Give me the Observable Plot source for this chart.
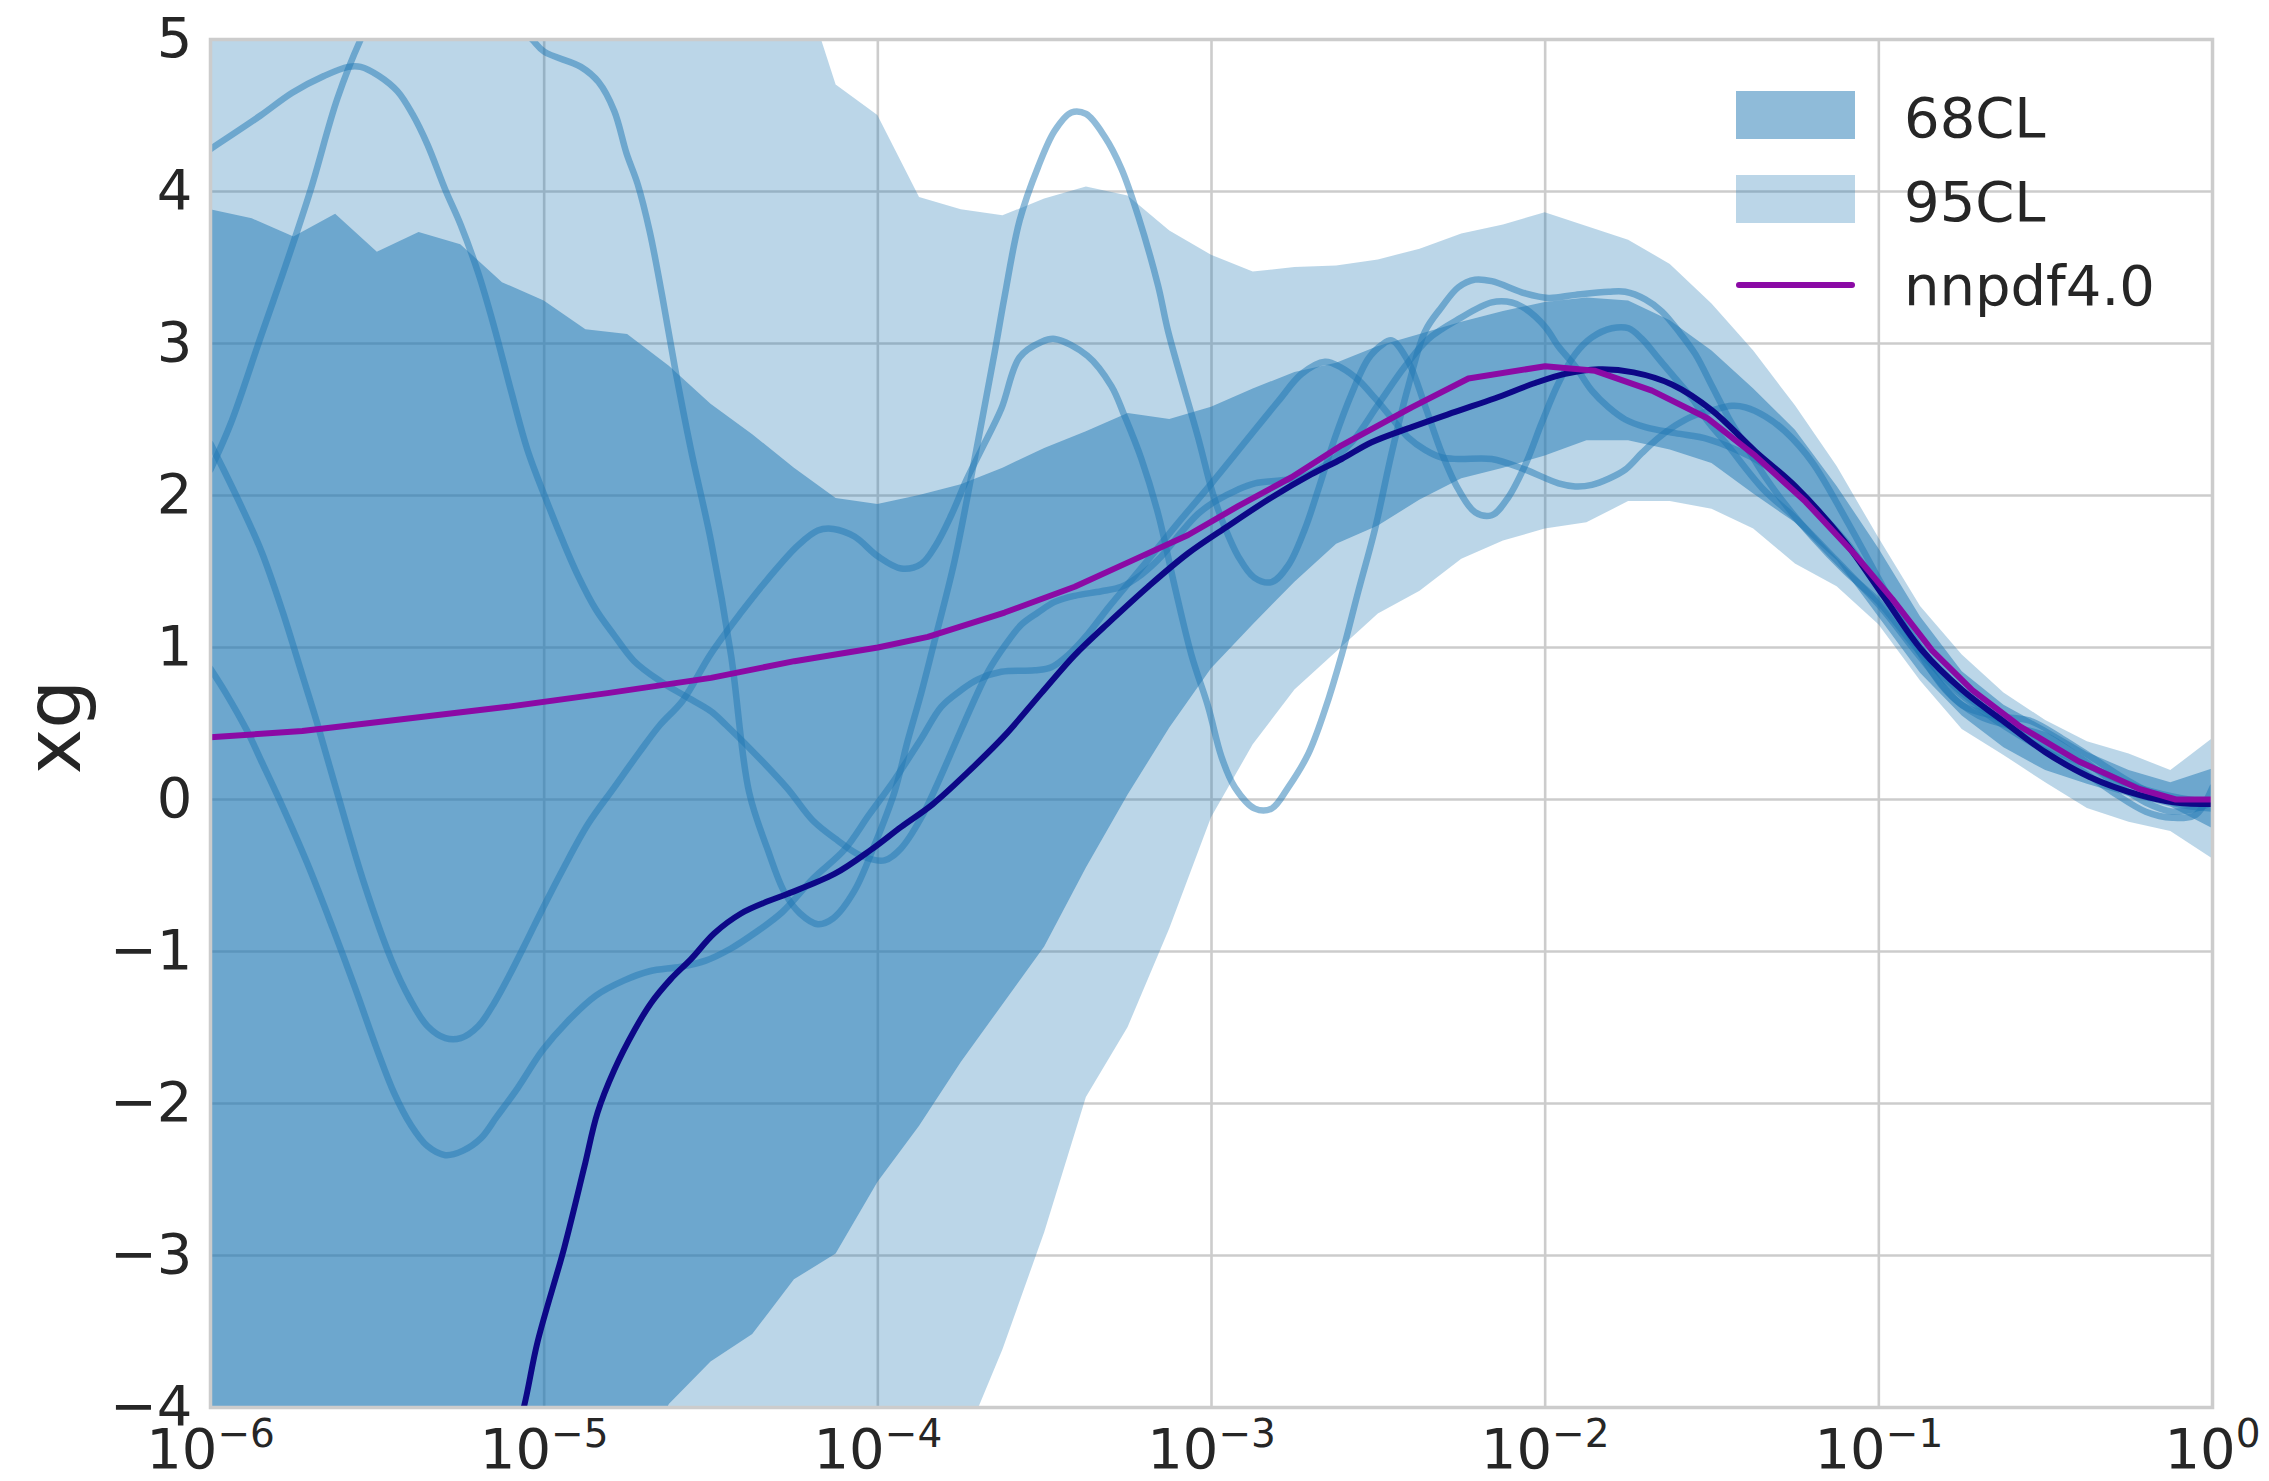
<!DOCTYPE html>
<html>
<head>
<meta charset="utf-8">
<script src="https://cdn.jsdelivr.net/npm/d3@7"></script>
<script src="https://cdn.jsdelivr.net/npm/@observablehq/plot@0.6"></script>
<style>
  html, body { margin: 0; padding: 0; background: #ffffff; }
  svg { display: block; }
</style>
</head>
<body>
<div id="chart"></div>
<script>
// ---------- DATA (x given as log10 exponents) ----------
const xTickExponents = [-6, -5, -4, -3, -2, -1, 0];
const yTicks = [-4, -3, -2, -1, 0, 1, 2, 3, 4, 5];

const gridLogX = [-6, -5.875, -5.75, -5.625, -5.5, -5.375, -5.25, -5.125, -5, -4.875, -4.75, -4.625,
  -4.5, -4.375, -4.25, -4.125, -4, -3.875, -3.75, -3.625, -3.5, -3.375, -3.25, -3.125,
  -3, -2.875, -2.75, -2.625, -2.5, -2.375, -2.25, -2.125, -2, -1.875, -1.75, -1.625,
  -1.5, -1.375, -1.25, -1.125, -1, -0.875, -0.75, -0.625, -0.5, -0.375, -0.25, -0.125, 0];

const cl95Upper = [6, 6, 6, 6, 6, 6, 6, 6, 6, 6, 6, 6, 6, 6,
  5.55, 4.70, 4.50, 3.96, 3.88, 3.84, 3.95, 4.03, 3.97, 3.74, 3.58, 3.47, 3.50, 3.51, 3.55,
  3.62, 3.72, 3.78, 3.86, 3.77, 3.68, 3.52, 3.26, 2.95, 2.59, 2.19, 1.72, 1.27, 0.95, 0.70,
  0.52, 0.38, 0.30, 0.19, 0.40];

const cl95Lower = [-6, -6, -6, -6, -6, -6, -6, -6, -6, -6, -6, -6, -6, -6, -6, -6, -6, -5,
  -4.28, -3.62, -2.85, -1.96, -1.50, -0.85, -0.12, 0.36, 0.72, 0.97, 1.22, 1.37, 1.58, 1.70,
  1.78, 1.82, 1.96, 1.96, 1.91, 1.78, 1.55, 1.40, 1.15, 0.78, 0.46, 0.29, 0.11, -0.06, -0.15,
  -0.21, -0.39];

const cl68Upper = [3.88, 3.82, 3.70, 3.85, 3.60, 3.73, 3.65, 3.40, 3.28, 3.09, 3.06, 2.85,
  2.60, 2.40, 2.18, 1.98, 1.94, 2.00, 2.07, 2.18, 2.31, 2.42, 2.54, 2.50, 2.58, 2.70, 2.81,
  2.87, 2.98, 3.06, 3.14, 3.21, 3.27, 3.30, 3.28, 3.15, 2.95, 2.70, 2.43, 2.06, 1.65, 1.20,
  0.84, 0.62, 0.47, 0.31, 0.19, 0.11, 0.20];

const cl68Lower = [-6, -6, -6, -6, -6, -6, -6, -6, -6, -5.4, -4.6,
  -3.98, -3.70, -3.52, -3.16, -2.99, -2.52, -2.15, -1.73, -1.35, -0.97, -0.45, 0.03, 0.47,
  0.86, 1.15, 1.43, 1.68, 1.80, 1.97, 2.11, 2.18, 2.26, 2.36, 2.36, 2.30, 2.21, 2.01, 1.82,
  1.57, 1.20, 0.83, 0.55, 0.34, 0.19, 0.10, 0.02, -0.05, -0.19];

// replicas: [log10 x, xg]
const replicaA = [[-6, 4.28], [-5.85, 4.50], [-5.755, 4.65], [-5.66, 4.76], [-5.587, 4.82], [-5.55, 4.82],
  [-5.495, 4.76], [-5.44, 4.66], [-5.395, 4.51], [-5.35, 4.31], [-5.296, 4.01], [-5.25, 3.78],
  [-5.197, 3.46], [-5.15, 3.11], [-5.097, 2.67], [-5.05, 2.30], [-4.99, 1.95], [-4.944, 1.70],
  [-4.898, 1.47], [-4.845, 1.25], [-4.79, 1.08], [-4.73, 0.91], [-4.653, 0.78], [-4.577, 0.68],
  [-4.50, 0.58], [-4.455, 0.49], [-4.35, 0.26], [-4.27, 0.07], [-4.194, -0.14], [-4.12, -0.27],
  [-4.05, -0.37], [-3.98, -0.40], [-3.93, -0.32], [-3.87, -0.12], [-3.82, 0.11], [-3.77, 0.36],
  [-3.72, 0.61], [-3.67, 0.84], [-3.62, 1.01], [-3.57, 1.15], [-3.52, 1.23], [-3.47, 1.30],
  [-3.41, 1.34], [-3.33, 1.37], [-3.27, 1.40], [-3.21, 1.48], [-3.15, 1.60], [-3.09, 1.76],
  [-3.04, 1.88], [-2.99, 1.96], [-2.92, 2.04], [-2.87, 2.08], [-2.79, 2.10], [-2.73, 2.12],
  [-2.66, 2.20], [-2.58, 2.35], [-2.50, 2.60], [-2.42, 2.85], [-2.35, 3.03], [-2.26, 3.16],
  [-2.16, 3.27], [-2.10, 3.27], [-2.06, 3.23], [-2.0, 3.11], [-1.96, 2.98], [-1.91, 2.85],
  [-1.86, 2.69], [-1.81, 2.58], [-1.76, 2.50], [-1.70, 2.45], [-1.61, 2.41], [-1.51, 2.37],
  [-1.38, 2.25], [-1.31, 2.15], [-1.24, 2.02], [-1.1, 1.70], [-1.0, 1.40], [-0.9, 1.08],
  [-0.8, 0.78], [-0.7, 0.60], [-0.6, 0.45], [-0.5, 0.32], [-0.4, 0.20], [-0.3, 0.05],
  [-0.2, -0.08], [-0.12, -0.12], [-0.05, -0.10], [0, 0.08]];

const replicaB = [[-6, 2.17], [-5.94, 2.47], [-5.85, 3.04], [-5.78, 3.48], [-5.70, 4.01], [-5.62, 4.61],
  [-5.55, 5.0], [-5.48, 5.3], [-5.38, 5.45], [-5.25, 5.4], [-5.12, 5.2], [-5.036, 5.0],
  [-5.0, 4.92], [-4.89, 4.82], [-4.837, 4.72], [-4.79, 4.53], [-4.753, 4.25], [-4.72, 4.05],
  [-4.684, 3.74], [-4.646, 3.31], [-4.608, 2.84], [-4.56, 2.30], [-4.50, 1.70], [-4.44, 0.95],
  [-4.386, 0.05], [-4.33, -0.33], [-4.28, -0.61], [-4.233, -0.75], [-4.18, -0.82], [-4.133, -0.78],
  [-4.07, -0.60], [-4.01, -0.30], [-3.95, 0.05], [-3.91, 0.39], [-3.87, 0.70], [-3.835, 1.0],
  [-3.77, 1.57], [-3.71, 2.24], [-3.65, 2.94], [-3.62, 3.31], [-3.575, 3.81], [-3.52, 4.16],
  [-3.47, 4.40], [-3.42, 4.52], [-3.376, 4.51], [-3.32, 4.36], [-3.27, 4.15], [-3.22, 3.84],
  [-3.16, 3.38], [-3.13, 3.08], [-3.04, 2.38], [-2.997, 2.02], [-2.96, 1.79], [-2.92, 1.60],
  [-2.872, 1.46], [-2.82, 1.43], [-2.77, 1.54], [-2.72, 1.78], [-2.68, 2.04], [-2.63, 2.38],
  [-2.58, 2.67], [-2.53, 2.90], [-2.49, 2.99], [-2.46, 3.02], [-2.41, 2.88], [-2.36, 2.59],
  [-2.31, 2.28], [-2.26, 2.04], [-2.21, 1.89], [-2.16, 1.87], [-2.11, 1.99], [-2.06, 2.20],
  [-2.01, 2.48], [-1.96, 2.74], [-1.91, 2.93], [-1.86, 3.04], [-1.80, 3.10], [-1.75, 3.10],
  [-1.71, 3.03], [-1.66, 2.90], [-1.61, 2.77], [-1.56, 2.64], [-1.51, 2.48], [-1.46, 2.35],
  [-1.35, 2.05], [-1.25, 1.85], [-1.13, 1.58], [-1.0, 1.28], [-0.87, 0.92], [-0.75, 0.62],
  [-0.65, 0.55], [-0.55, 0.52], [-0.45, 0.40], [-0.35, 0.26], [-0.25, 0.12], [-0.12, -0.02], [0, -0.06]];

const replicaC = [[-6, 0.86], [-5.954, 0.70], [-5.89, 0.45], [-5.847, 0.25], [-5.80, 0.03], [-5.71, -0.42],
  [-5.633, -0.85], [-5.57, -1.22], [-5.50, -1.65], [-5.45, -1.93], [-5.40, -2.14], [-5.35, -2.28],
  [-5.296, -2.34], [-5.243, -2.31], [-5.19, -2.23], [-5.143, -2.09], [-5.08, -1.90], [-5.005, -1.65],
  [-4.93, -1.46], [-4.845, -1.29], [-4.76, -1.19], [-4.684, -1.13], [-4.59, -1.10], [-4.516, -1.06],
  [-4.44, -0.98], [-4.37, -0.88], [-4.286, -0.74], [-4.194, -0.52], [-4.10, -0.33], [-4.026, -0.10],
  [-3.95, 0.13], [-3.87, 0.40], [-3.81, 0.61], [-3.75, 0.72], [-3.70, 0.79], [-3.63, 0.84],
  [-3.53, 0.85], [-3.48, 0.87], [-3.43, 0.95], [-3.37, 1.09], [-3.31, 1.26], [-3.2, 1.55],
  [-3.1, 1.82], [-3.0, 2.08], [-2.9, 2.35], [-2.8, 2.62], [-2.73, 2.80], [-2.66, 2.88],
  [-2.61, 2.84], [-2.56, 2.76], [-2.51, 2.64], [-2.46, 2.51], [-2.41, 2.38], [-2.36, 2.30],
  [-2.31, 2.25], [-2.26, 2.24], [-2.16, 2.24], [-2.06, 2.17], [-1.96, 2.08], [-1.91, 2.06],
  [-1.86, 2.07], [-1.81, 2.11], [-1.76, 2.17], [-1.71, 2.28], [-1.66, 2.38], [-1.61, 2.46],
  [-1.56, 2.52], [-1.50, 2.56], [-1.44, 2.59], [-1.40, 2.58], [-1.34, 2.52], [-1.28, 2.42],
  [-1.20, 2.22], [-1.1, 1.85], [-1.0, 1.45], [-0.9, 1.05], [-0.8, 0.72], [-0.7, 0.55],
  [-0.6, 0.48], [-0.5, 0.42], [-0.4, 0.28], [-0.3, 0.12], [-0.2, -0.02], [-0.12, -0.08],
  [-0.05, -0.06], [0, -0.02]];

const replicaD = [[-6, 2.34], [-5.954, 2.14], [-5.908, 1.93], [-5.847, 1.63], [-5.786, 1.25], [-5.725, 0.82],
  [-5.68, 0.50], [-5.617, 0.02], [-5.54, -0.55], [-5.457, -1.06], [-5.403, -1.31],
  [-5.35, -1.49], [-5.296, -1.57], [-5.25, -1.57], [-5.197, -1.49], [-5.15, -1.34], [-5.105, -1.16],
  [-5.05, -0.92], [-5.005, -0.72], [-4.944, -0.46], [-4.868, -0.16], [-4.79, 0.08], [-4.715, 0.31],
  [-4.653, 0.49], [-4.585, 0.65], [-4.50, 0.96], [-4.41, 1.23], [-4.33, 1.45], [-4.24, 1.67],
  [-4.18, 1.77], [-4.133, 1.78], [-4.07, 1.73], [-4.0, 1.60], [-3.93, 1.52], [-3.87, 1.55],
  [-3.827, 1.67], [-3.78, 1.87], [-3.735, 2.10], [-3.69, 2.30], [-3.63, 2.57], [-3.575, 2.91],
  [-3.51, 3.01], [-3.47, 3.03], [-3.372, 2.92], [-3.30, 2.72], [-3.26, 2.52], [-3.21, 2.24],
  [-3.16, 1.88], [-3.11, 1.40], [-3.06, 0.95], [-3.01, 0.61], [-2.97, 0.28], [-2.93, 0.08],
  [-2.87, -0.06], [-2.82, -0.06], [-2.77, 0.08], [-2.71, 0.30], [-2.66, 0.59], [-2.61, 0.95],
  [-2.56, 1.37], [-2.51, 1.78], [-2.46, 2.28], [-2.41, 2.72], [-2.36, 3.08], [-2.31, 3.24],
  [-2.26, 3.37], [-2.21, 3.42], [-2.16, 3.41], [-2.06, 3.33], [-1.99, 3.30], [-1.91, 3.32],
  [-1.81, 3.34], [-1.76, 3.34], [-1.70, 3.29], [-1.65, 3.21], [-1.60, 3.08], [-1.55, 2.93],
  [-1.50, 2.72], [-1.45, 2.51], [-1.40, 2.33], [-1.34, 2.12], [-1.28, 1.94], [-1.20, 1.73],
  [-1.1, 1.50], [-1.0, 1.30], [-0.87, 0.95], [-0.75, 0.70], [-0.62, 0.50], [-0.5, 0.35],
  [-0.37, 0.22], [-0.25, 0.10], [-0.12, 0.02], [0, -0.02]];

const centralLine = [[-5.10, -4.30], [-5.06, -3.99], [-5.02, -3.57], [-4.94, -2.95], [-4.88, -2.42],
  [-4.84, -2.06], [-4.79, -1.78], [-4.73, -1.52], [-4.68, -1.34], [-4.62, -1.18], [-4.56, -1.05],
  [-4.49, -0.88], [-4.41, -0.75], [-4.33, -0.67], [-4.27, -0.62], [-4.13, -0.49], [-4.02, -0.33],
  [-3.93, -0.18], [-3.835, -0.03], [-3.73, 0.18], [-3.62, 0.42], [-3.51, 0.70], [-3.41, 0.95],
  [-3.30, 1.18], [-3.19, 1.40], [-3.07, 1.62], [-2.95, 1.80], [-2.825, 1.98], [-2.70, 2.14],
  [-2.61, 2.24], [-2.52, 2.35], [-2.40, 2.45], [-2.27, 2.55], [-2.15, 2.64], [-2.03, 2.74],
  [-1.94, 2.80], [-1.84, 2.83], [-1.735, 2.81], [-1.62, 2.73], [-1.50, 2.56], [-1.37, 2.29],
  [-1.25, 2.06], [-1.10, 1.69], [-0.99, 1.35], [-0.87, 0.98], [-0.75, 0.72], [-0.63, 0.52],
  [-0.50, 0.31], [-0.37, 0.15], [-0.22, 0.03], [-0.11, -0.02], [0, -0.03]];

const nnpdf40 = [[-6, 0.41], [-5.725, 0.45], [-5.42, 0.53], [-5.11, 0.61], [-4.81, 0.70], [-4.5, 0.80],
  [-4.25, 0.91], [-4, 1.0], [-3.85, 1.07], [-3.62, 1.23], [-3.41, 1.40], [-3.24, 1.57],
  [-3.07, 1.74], [-2.92, 1.93], [-2.76, 2.12], [-2.61, 2.33], [-2.40, 2.58], [-2.23, 2.77],
  [-2.0, 2.85], [-1.85, 2.82], [-1.68, 2.69], [-1.515, 2.51], [-1.37, 2.26], [-1.22, 1.96],
  [-1.075, 1.62], [-0.96, 1.32], [-0.84, 0.98], [-0.72, 0.72], [-0.576, 0.48], [-0.40, 0.25],
  [-0.22, 0.07], [-0.11, 0.0], [0, 0.0]];

const legendLabels = ["68CL", "95CL", "nnpdf4.0"];
const yLabel = "xg";

// ---------- BUILD ----------
const xTicks = xTickExponents.map(e => Math.pow(10, e));
const bandRows = gridLogX.map((lx, i) => ({
  x: Math.pow(10, lx), u95: cl95Upper[i], l95: cl95Lower[i], u68: cl68Upper[i], l68: cl68Lower[i]
}));
const toRows = (pairs, name) => pairs.map(([lx, y]) => ({x: Math.pow(10, lx), y, name}));
const replicaRows = [
  ...toRows(replicaA, "A"), ...toRows(replicaB, "B"),
  ...toRows(replicaC, "C"), ...toRows(replicaD, "D")
];
const centralRows = toRows(centralLine, "central");
const nnpdfRows = toRows(nnpdf40, "nnpdf");

const BLUE = "#1f77b4";
const TEXT = "#262626";
const GRID = "#cccccc";
const FONT = "'DejaVu Sans', 'Liberation Sans', sans-serif";
const minus = v => (v < 0 ? "\u2212" + Math.abs(v) : String(v));

const svg = Plot.plot({
  width: 2269,
  height: 1481,
  marginLeft: 210,
  marginRight: 57,
  marginTop: 39,
  marginBottom: 74,
  style: {fontFamily: FONT, fontSize: "56px", color: TEXT, background: "#ffffff", overflow: "visible"},
  x: {type: "log", domain: [1e-6, 1]},
  y: {domain: [-4, 5]},
  marks: [
    Plot.gridX({ticks: xTicks, stroke: GRID, strokeOpacity: 1, strokeWidth: 2.6}),
    Plot.gridY({ticks: yTicks, stroke: GRID, strokeOpacity: 1, strokeWidth: 2.6}),
    Plot.areaY(bandRows, {x: "x", y1: "l95", y2: "u95", fill: BLUE, fillOpacity: 0.3, clip: true}),
    Plot.areaY(bandRows, {x: "x", y1: "l68", y2: "u68", fill: BLUE, fillOpacity: 0.5, clip: true}),
    Plot.line(replicaRows, {x: "x", y: "y", z: "name", stroke: BLUE, strokeOpacity: 0.5, strokeWidth: 6.5,
      curve: "catmull-rom", clip: true}),
    Plot.line(centralRows, {x: "x", y: "y", stroke: "#0d0887", strokeWidth: 6, curve: "catmull-rom", clip: true}),
    Plot.line(nnpdfRows, {x: "x", y: "y", stroke: "#8b0aa5", strokeWidth: 6, clip: true}),
    Plot.frame({stroke: GRID, strokeWidth: 3.5}),
    Plot.axisX({ticks: xTicks, tickSize: 0, tickPadding: 21, fontSize: 56, label: null,
      tickFormat: d => minus(Math.round(Math.log10(d)))}),
    Plot.axisY({ticks: yTicks, tickSize: 0, tickPadding: 18, fontSize: 56, label: null,
      tickFormat: d => minus(d)})
  ]
});

const root = d3.select(svg);

// x tick labels as 10 with superscript exponent
root.selectAll('g[aria-label="x-axis tick label"] text').each(function () {
  const t = d3.select(this);
  const exp = t.text();
  t.text(null);
  t.append("tspan").text("10");
  t.append("tspan").attr("font-size", 39).attr("dy", -21).text(exp);
});

// y label
root.append("text")
  .attr("transform", "translate(80,727) rotate(-90)")
  .attr("text-anchor", "middle")
  .attr("font-family", FONT)
  .attr("font-size", 77)
  .attr("fill", TEXT)
  .text(yLabel);

// legend
const leg = root.append("g").attr("font-family", FONT).attr("font-size", 56).attr("fill", TEXT)
  .attr("text-anchor", "start");
leg.append("rect").attr("x", 1736).attr("y", 91).attr("width", 119).attr("height", 48)
  .attr("fill", BLUE).attr("fill-opacity", 0.5);
leg.append("rect").attr("x", 1736).attr("y", 175).attr("width", 119).attr("height", 48)
  .attr("fill", BLUE).attr("fill-opacity", 0.3);
leg.append("line").attr("x1", 1739).attr("x2", 1852).attr("y1", 285).attr("y2", 285)
  .attr("stroke", "#8b0aa5").attr("stroke-width", 6).attr("stroke-linecap", "round");
[137, 221, 305].forEach((yb, i) => {
  leg.append("text").attr("x", 1904).attr("y", yb).attr("text-anchor", "start").text(legendLabels[i]);
});

document.getElementById("chart").appendChild(svg);
</script>
</body>
</html>
